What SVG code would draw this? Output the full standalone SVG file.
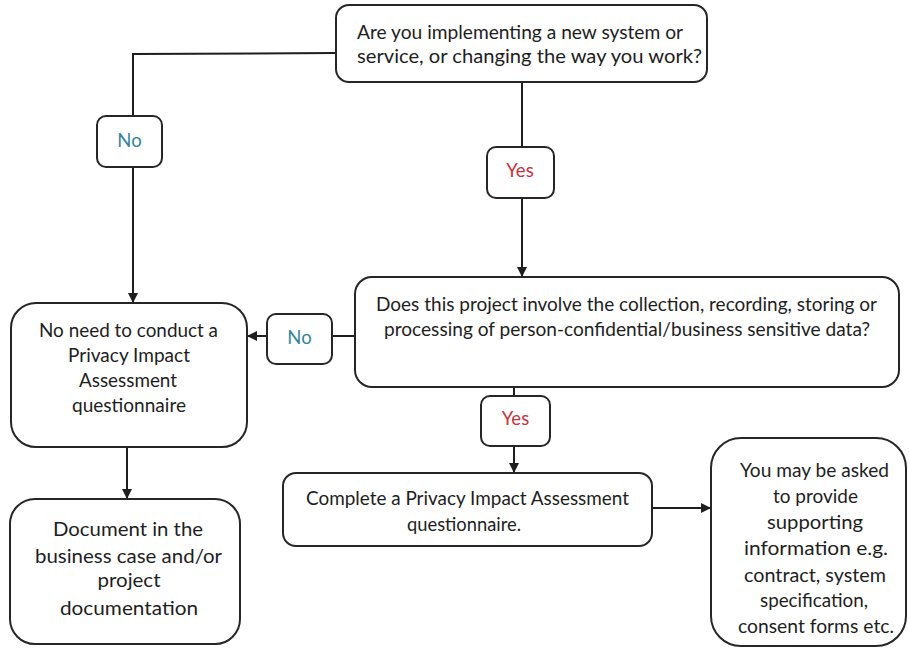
<svg xmlns="http://www.w3.org/2000/svg" width="909" height="650" viewBox="0 0 909 650">
<style>
.box{fill:#fff;stroke:#262626;stroke-width:2}
.t{font-family:Lato,"Liberation Sans",Arial,sans-serif;font-size:18.5px;fill:#1e1e1e;text-anchor:middle}
.tb{font-size:19.5px}
.no{fill:#31849b}
.yes{fill:#c8323c}
.ln{fill:none;stroke:#1e1e1e;stroke-width:2}
</style>
<defs>
<marker id="ah" markerWidth="10" markerHeight="10" refX="9" refY="5" orient="auto" markerUnits="userSpaceOnUse">
<path d="M0,0 L10,5 L0,10 Z" fill="#1e1e1e"/>
</marker>
</defs>
<rect width="909" height="650" fill="#fff"/>
<g id="connectors">
<polyline class="ln" points="336,53 133,54 133,116"/>
<line class="ln" x1="133" y1="167" x2="133" y2="302" marker-end="url(#ah)"/>
<line class="ln" x1="522" y1="82" x2="522" y2="147"/>
<line class="ln" x1="522" y1="198" x2="522" y2="276" marker-end="url(#ah)"/>
<line class="ln" x1="355" y1="336" x2="332" y2="336"/>
<line class="ln" x1="267" y1="336" x2="248" y2="336" marker-end="url(#ah)"/>
<line class="ln" x1="127" y1="447" x2="127" y2="498" marker-end="url(#ah)"/>
<line class="ln" x1="514" y1="387" x2="514" y2="396"/>
<line class="ln" x1="514" y1="446" x2="514" y2="472" marker-end="url(#ah)"/>
<line class="ln" x1="652" y1="508" x2="710" y2="508" marker-end="url(#ah)"/>
</g>
<g id="q1">
<rect class="box" x="336" y="5" width="371" height="77" rx="13"/>
<text class="t" x="357" y="39" style="text-anchor:start" textLength="326" lengthAdjust="spacingAndGlyphs">Are you implementing a new system or</text>
<text class="t" x="357" y="63" style="text-anchor:start" textLength="345" lengthAdjust="spacingAndGlyphs">service, or changing the way you work?</text>
</g>
<g id="no1">
<rect class="box" x="97" y="116" width="65" height="51" rx="9"/>
<text class="t no" x="129.5" y="147">No</text>
</g>
<g id="yes1">
<rect class="box" x="487" y="147" width="67" height="51" rx="9"/>
<text class="t yes" x="520" y="177">Yes</text>
</g>
<g id="q2">
<rect class="box" x="355" y="277" width="544" height="110" rx="17"/>
<text class="t" x="626.5" y="311" textLength="501" lengthAdjust="spacingAndGlyphs">Does this project involve the collection, recording, storing or</text>
<text class="t" x="627" y="336" textLength="486" lengthAdjust="spacingAndGlyphs">processing of person-confidential/business sensitive data?</text>
</g>
<g id="no2">
<rect class="box" x="267" y="314" width="65" height="50" rx="9"/>
<text class="t no" x="299.5" y="344">No</text>
</g>
<g id="noneed">
<rect class="box" x="11" y="303" width="236" height="144" rx="25"/>
<text class="t" x="128.5" y="337" textLength="179" lengthAdjust="spacingAndGlyphs">No need to conduct a</text>
<text class="t" x="129" y="362" textLength="122" lengthAdjust="spacingAndGlyphs">Privacy Impact</text>
<text class="t" x="128" y="387" textLength="98" lengthAdjust="spacingAndGlyphs">Assessment</text>
<text class="t" x="129" y="412" textLength="114" lengthAdjust="spacingAndGlyphs">questionnaire</text>
</g>
<g id="yes2">
<rect class="box" x="481" y="396" width="69" height="50" rx="9"/>
<text class="t yes" x="515.5" y="425">Yes</text>
</g>
<g id="complete">
<rect class="box" x="283" y="473" width="369" height="73" rx="13"/>
<text class="t" x="467.5" y="505" textLength="323" lengthAdjust="spacingAndGlyphs">Complete a Privacy Impact Assessment</text>
<text class="t" x="464" y="531" textLength="114" lengthAdjust="spacingAndGlyphs">questionnaire.</text>
</g>
<g id="document">
<rect class="box" x="10" y="499" width="230" height="145" rx="25"/>
<text class="t tb" x="128" y="536" textLength="150" lengthAdjust="spacingAndGlyphs">Document in the</text>
<text class="t tb" x="128.5" y="563" textLength="187" lengthAdjust="spacingAndGlyphs">business case and/or</text>
<text class="t tb" x="129" y="587" textLength="63" lengthAdjust="spacingAndGlyphs">project</text>
<text class="t tb" x="129" y="615" textLength="138" lengthAdjust="spacingAndGlyphs">documentation</text>
</g>
<g id="supporting">
<rect class="box" x="711" y="438" width="195" height="208" rx="30"/>
<text class="t tb" x="814.5" y="477" textLength="149" lengthAdjust="spacingAndGlyphs">You may be asked</text>
<text class="t tb" x="815.5" y="503" textLength="85" lengthAdjust="spacingAndGlyphs">to provide</text>
<text class="t tb" x="815" y="529" textLength="96" lengthAdjust="spacingAndGlyphs">supporting</text>
<text class="t tb" x="816" y="555" textLength="144" lengthAdjust="spacingAndGlyphs">information e.g.</text>
<text class="t tb" x="815" y="582" textLength="142" lengthAdjust="spacingAndGlyphs">contract, system</text>
<text class="t tb" x="814" y="607" textLength="108" lengthAdjust="spacingAndGlyphs">specification,</text>
<text class="t tb" x="816" y="633" textLength="156" lengthAdjust="spacingAndGlyphs">consent forms etc.</text>
</g>
</svg>
